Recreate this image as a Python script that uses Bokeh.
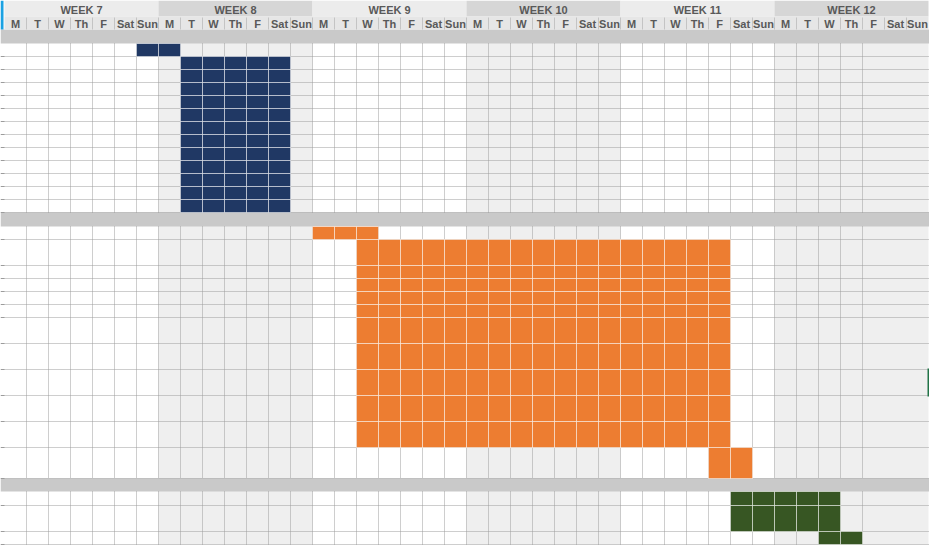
from bokeh.plotting import figure
from bokeh.models import Range1d, ColumnDataSource
from bokeh.core.properties import value
from bokeh.embed import file_html
from bokeh.resources import INLINE

# ---------------- data ----------------
week_numbers = [7, 8, 9, 10, 11, 12]
day_names = ["M", "T", "W", "Th", "F", "Sat", "Sun"]

# day index: 0 = Monday of week 7 ... 41 = Sunday of week 12 (inclusive start / end)
group1_start = [6, 8, 8, 8, 8, 8, 8, 8, 8, 8, 8, 8, 8]
group1_end = [7, 12, 12, 12, 12, 12, 12, 12, 12, 12, 12, 12, 12]
group2_start = [14, 16, 16, 16, 16, 16, 16, 16, 16, 16, 16, 32]
group2_end = [16, 32, 32, 32, 32, 32, 32, 32, 32, 32, 32, 33]
group3_start = [33, 33, 37]
group3_end = [37, 37, 38]

# ---------------- layout / style ----------------
W, H = 929, 546
LEFT_PX, DAY_PX = 4, 22
WEEK_ROW = (0, 16)
DAY_ROW = (16, 29)
SEP_HEIGHTS = [14, 14, 13]
ROW_HEIGHTS = [
    [13, 13, 13, 13, 13, 13, 13, 13, 13, 13, 13, 13, 13],
    [13, 26, 13, 13, 13, 13, 26, 26, 26, 26, 26, 31],
    [14, 26, 13],
]
GROUP_COLORS = ["#203864", "#ED7D31", "#375623"]
GRID_COLOR = "#9c9c9c"
SEP_COLOR = "#c9c9c9"
SHADE_COLOR = "#efefef"
TEXT_COLOR = "#595959"
WEEK_HDR_COLORS = ["#ececec", "#d6d6d6"]
DAY_HDR_COLOR = "#e6e6e6"
GRID_LAST_BOUNDARY = 39

groups = [
    (group1_start, group1_end),
    (group2_start, group2_end),
    (group3_start, group3_end),
]
n_days = len(week_numbers) * len(day_names)

p = figure(
    width=W, height=H,
    x_range=Range1d(-LEFT_PX / DAY_PX, (W - LEFT_PX) / DAY_PX),
    y_range=Range1d(H, 0),
    output_backend="svg", toolbar_location=None, min_border=0,
)
p.axis.visible = False
p.grid.visible = False
p.outline_line_color = None
p.background_fill_color = "white"
p.border_fill_color = "white"

px = lambda x: (x - LEFT_PX) / DAY_PX  # screen px -> day units (decoration only)

# ---- compute row geometry ----
y = DAY_ROW[1]
sep_spans = []
group_spans = []
row_spans = []  # (group, start, end, top, bottom)
for gi, (starts, ends) in enumerate(groups):
    sep_spans.append((y, y + SEP_HEIGHTS[gi]))
    y += SEP_HEIGHTS[gi]
    g_top = y
    for ri, (s, e) in enumerate(zip(starts, ends)):
        h = ROW_HEIGHTS[gi][ri]
        row_spans.append((gi, s, e, y, y + h))
        y += h
    group_spans.append((g_top, y))
data_bottom = y

# ---- week shading in data area ----
shade_left, shade_right = [], []
for wi in range(len(week_numbers)):
    if wi % 2 == 1:
        shade_left.append(wi * 7)
        shade_right.append(wi * 7 + 7)
p.quad(left=shade_left, right=shade_right,
       top=[DAY_ROW[1]] * len(shade_left), bottom=[data_bottom] * len(shade_left),
       fill_color=SHADE_COLOR, line_color=None)

# ---- separators ----
p.quad(left=[px(0)] * 3, right=[n_days + 1] * 3,
       top=[s[0] for s in sep_spans], bottom=[s[1] for s in sep_spans],
       fill_color=SEP_COLOR, line_color=None)

# ---- grid lines ----
vx0, vx1, vy0, vy1 = [], [], [], []
for (gt, gb) in group_spans:
    for d in range(1, GRID_LAST_BOUNDARY + 1):
        vx0.append(d); vx1.append(d); vy0.append(gt); vy1.append(gb)
p.segment(x0=vx0, y0=vy0, x1=vx1, y1=vy1, line_color=GRID_COLOR,
          line_width=1, line_dash="1 1")
hy = []
for (_, _, _, top, bottom) in row_spans:
    hy.append(bottom)
p.segment(x0=[0] * len(hy), y0=hy, x1=[n_days + 1] * len(hy), y1=hy,
          line_color=GRID_COLOR, line_width=1, line_dash="1 1")
p.segment(x0=[px(0)] * len(hy), y0=hy, x1=[0] * len(hy), y1=hy,
          line_color=GRID_COLOR, line_width=1)

# ---- task cells ----
cl, cr, ct, cb, cc = [], [], [], [], []
for (gi, s, e, top, bottom) in row_spans:
    for d in range(s, e + 1):
        cl.append(d); cr.append(d + 1); ct.append(top); cb.append(bottom)
        cc.append(GROUP_COLORS[gi])
p.quad(source=ColumnDataSource(dict(l=cl, r=cr, t=ct, b=cb, c=cc)),
       left="l", right="r", top="t", bottom="b",
       fill_color="c", line_color="white", line_width=1, line_dash="1 1")

# ---- header ----
wl = [wi * 7 for wi in range(len(week_numbers))]
wr = [wi * 7 + 7 for wi in range(len(week_numbers))]
wc = [WEEK_HDR_COLORS[wi % 2] for wi in range(len(week_numbers))]
p.quad(left=wl, right=wr, top=[WEEK_ROW[0]] * 6, bottom=[WEEK_ROW[1]] * 6,
       fill_color=wc, line_color=None)
p.quad(left=[0], right=[n_days], top=[DAY_ROW[0]], bottom=[DAY_ROW[1]],
       fill_color=DAY_HDR_COLOR, line_color=None)
p.segment(x0=list(range(1, n_days)), x1=list(range(1, n_days)),
          y0=[DAY_ROW[0] + 1] * (n_days - 1), y1=[DAY_ROW[1]] * (n_days - 1),
          line_color="#c4c4c4", line_width=1)
# left accent bar
p.quad(left=[px(0)], right=[px(3)], top=[0], bottom=[DAY_ROW[1]],
       fill_color="#1ba1e2", line_color=None)

week_labels = ["WEEK %d" % w for w in week_numbers]
p.text(x=[wi * 7 + 3.5 for wi in range(len(week_numbers))],
       y=[(WEEK_ROW[0] + WEEK_ROW[1]) / 2 + 1] * len(week_numbers),
       text=week_labels, text_font=value("Liberation Sans"),
       text_font_style="bold", text_font_size="11px", text_color=TEXT_COLOR,
       text_align="center", text_baseline="middle")
day_labels = [day_names[d % 7] for d in range(n_days)]
p.text(x=[d + 0.5 for d in range(n_days)],
       y=[(DAY_ROW[0] + DAY_ROW[1]) / 2 + 1] * n_days,
       text=day_labels, text_font=value("Liberation Sans"),
       text_font_style="bold", text_font_size="11px", text_color=TEXT_COLOR,
       text_align="center", text_baseline="middle")

# right-edge marker
p.quad(left=[px(927)], right=[px(929)], top=[368], bottom=[396],
       fill_color="#217346", line_color=None)

open("out.html", "w").write(file_html(p, INLINE))
